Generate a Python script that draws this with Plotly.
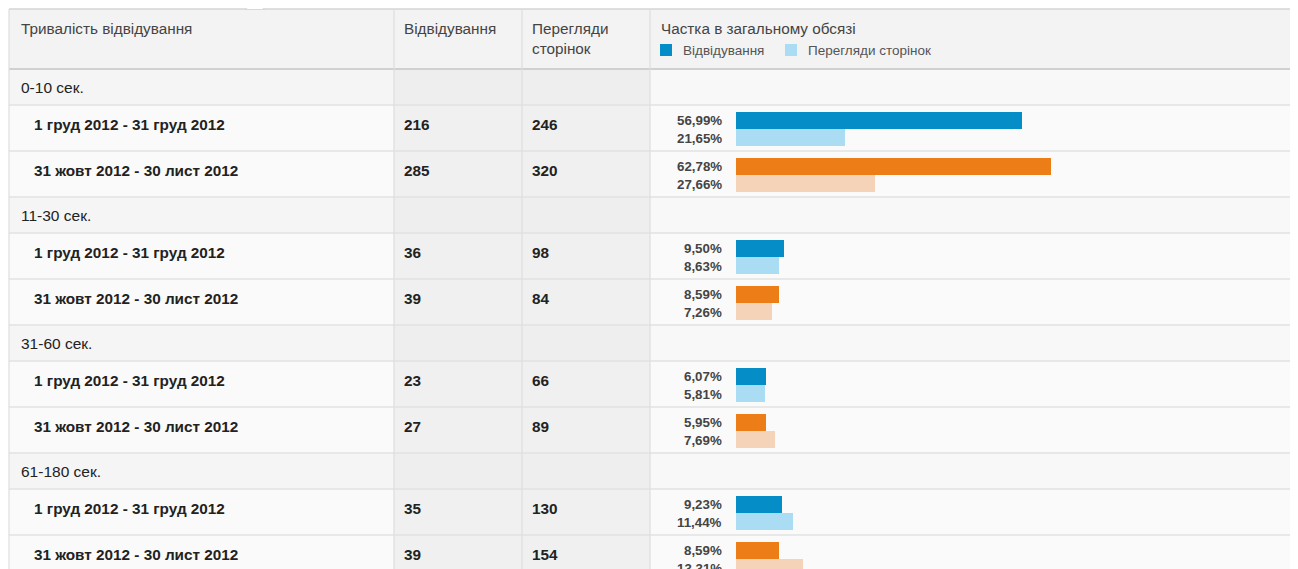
import plotly.graph_objects as go

# ---------------- data ----------------
groups = ["0-10 сек.", "11-30 сек.", "31-60 сек.", "61-180 сек."]
periods = ["1 груд 2012 - 31 груд 2012", "31 жовт 2012 - 30 лист 2012"]
visits_dec = [216, 36, 23, 35]
pageviews_dec = [246, 98, 66, 130]
visits_nov = [285, 39, 27, 39]
pageviews_nov = [320, 84, 89, 154]
share_visits_dec = [56.99, 9.50, 6.07, 9.23]
share_pv_dec = [21.65, 8.63, 5.81, 11.44]
share_visits_nov = [62.78, 8.59, 5.95, 8.59]
share_pv_nov = [27.66, 7.26, 7.69, 13.31]

header_cols = ["Тривалість відвідування", "Відвідування", "Перегляди<br>сторінок",
               "Частка в загальному обсязі"]
legend_labels = ["Відвідування", "Перегляди сторінок"]

# ---------------- style ----------------
VW, VH = 1298, 569          # viewport (reference pixel space)
OFF = 8                     # page body margin
W, H = VW - OFF, VH - OFF   # figure size
FONT = "Liberation Sans, Arial, sans-serif"
C_VIS = ["#058dc7", "#ed7e17"]
C_PV = ["#aadcf3", "#f5d3b8"]
COL_X = [9, 394, 522, 650, 1293]
HEADER_TOP, HEADER_BOT = 9, 69
GROUP_H, DATA_H = 36, 46
BAR_X0 = 736
PX_PER_PCT = 5.02

def px(x):
    return (x - OFF) / W

shapes, annots = [], []

def rect(x0, y0, x1, y1, fill, layer="below"):
    shapes.append(dict(type="rect", xref="paper", yref="y", x0=px(x0), x1=px(x1),
                       y0=y0, y1=y1, fillcolor=fill, line=dict(width=0), layer=layer))

def hline(y, x0, x1, color="#e2e2e2", w=1.5):
    shapes.append(dict(type="line", xref="paper", yref="y", x0=px(x0), x1=px(x1),
                       y0=y, y1=y, line=dict(color=color, width=w), layer="above"))

def vline(x, y0, y1, color="#e4e4e4", w=1):
    shapes.append(dict(type="line", xref="paper", yref="y", x0=px(x), x1=px(x),
                       y0=y0, y1=y1, line=dict(color=color, width=w), layer="above"))

def text(x, y, s, size=13, color="#333", bold=False, anchor="left"):
    if bold:
        s = "<b>" + s + "</b>"
    annots.append(dict(xref="paper", yref="y", x=px(x), y=y, text=s, showarrow=False,
                       xanchor=anchor, yanchor="middle", align="left",
                       xshift=-1 if anchor == "left" else 1,
                       font=dict(family=FONT, size=size, color=color)))

# header
rect(COL_X[0], HEADER_TOP, COL_X[-1], HEADER_BOT, "#f3f3f3")
text(20, 28, header_cols[0], 15.3, "#444")
text(403, 28, header_cols[1], 15.3, "#444")
annots.append(dict(xref="paper", yref="y", x=px(531), y=38, text=header_cols[2], showarrow=False,
                   xanchor="left", yanchor="middle", align="left", xshift=-1,
                   font=dict(family=FONT, size=15.3, color="#444")))
text(660, 28, header_cols[3], 15.3, "#444")
# legend swatches
leg_x = [660, 785]
for i, lab in enumerate(legend_labels):
    rect(leg_x[i], 44, leg_x[i] + 12, 56, C_VIS[0] if i == 0 else C_PV[0], layer="above")
    text(leg_x[i] + 22, 50.5, lab, 13.5, "#555")

# rows
y = HEADER_BOT
bar_rows = []
vis_lists = [visits_dec, visits_nov]
pv_lists = [pageviews_dec, pageviews_nov]
for g, gname in enumerate(groups):
    rect(COL_X[0], y, COL_X[1], y + GROUP_H, "#f5f5f5")
    rect(COL_X[1], y, COL_X[3], y + GROUP_H, "#eeeeee")
    rect(COL_X[3], y, COL_X[4], y + GROUP_H, "#f8f8f8")
    text(20, y + GROUP_H / 2, gname, 15.5, "#222")
    y += GROUP_H
    hline(y, COL_X[0], COL_X[-1])
    for p in range(2):
        rect(COL_X[0], y, COL_X[1], y + DATA_H, "#fafafa")
        rect(COL_X[1], y, COL_X[3], y + DATA_H, "#f0f0f0")
        rect(COL_X[3], y, COL_X[4], y + DATA_H, "#fafafa")
        text(33, y + 19, periods[p], 15.3, "#222", bold=True)
        text(403, y + 19, str(vis_lists[p][g]), 15.3, "#222", bold=True)
        text(531, y + 19, str(pv_lists[p][g]), 15.3, "#222", bold=True)
        bar_rows.append((y, g, p))
        y += DATA_H
        hline(y, COL_X[0], COL_X[-1])

# lines
hline(HEADER_TOP, COL_X[0], VW, "#d4d4d4", 1.5)
hline(HEADER_BOT, COL_X[0], COL_X[-1], "#d0d0d0", 2)
for x in COL_X[:-1]:
    vline(x, HEADER_TOP, VH, "#dedede", 1.2)
shapes.append(dict(type="path", xref="paper", yref="y",
                   path=f"M {px(245)} 9.5 L {px(255)} 2 L {px(265)} 9.5 Z",
                   fillcolor="white", line=dict(color="#d8d8d8", width=1), layer="above"))

# bars
share_vis = [share_visits_dec, share_visits_nov]
share_pv = [share_pv_dec, share_pv_nov]
fig = go.Figure()
for p in range(2):
    tops = [t for (t, g, pp) in bar_rows if pp == p]
    gs = [g for (t, g, pp) in bar_rows if pp == p]
    fig.add_trace(go.Bar(orientation="h", x=[share_vis[p][g] for g in gs],
                         y=[t + 15.5 for t in tops], width=17,
                         marker=dict(color=C_VIS[p], line=dict(width=0)),
                         showlegend=False, hoverinfo="x"))
    fig.add_trace(go.Bar(orientation="h", x=[share_pv[p][g] for g in gs],
                         y=[t + 32.5 for t in tops], width=17,
                         marker=dict(color=C_PV[p], line=dict(width=0)),
                         showlegend=False, hoverinfo="x"))
    for t, g in zip(tops, gs):
        text(723, t + 15, f"{share_vis[p][g]:.2f}%".replace(".", ","), 13.3, "#444",
             bold=True, anchor="right")
        text(723, t + 33, f"{share_pv[p][g]:.2f}%".replace(".", ","), 13.3, "#444",
             bold=True, anchor="right")

x_range_max = 100
fig.update_layout(
    width=W, height=H, margin=dict(l=0, r=0, t=0, b=0),
    paper_bgcolor="white", plot_bgcolor="rgba(0,0,0,0)",
    barmode="overlay", bargap=0,
    xaxis=dict(range=[0, x_range_max], domain=[px(BAR_X0), px(BAR_X0 + PX_PER_PCT * x_range_max)],
               visible=False, fixedrange=True),
    yaxis=dict(range=[VH, OFF], domain=[0, 1], visible=False, fixedrange=True),
    shapes=shapes, annotations=annots,
    font=dict(family=FONT),
)
fig.write_html("out.html")
